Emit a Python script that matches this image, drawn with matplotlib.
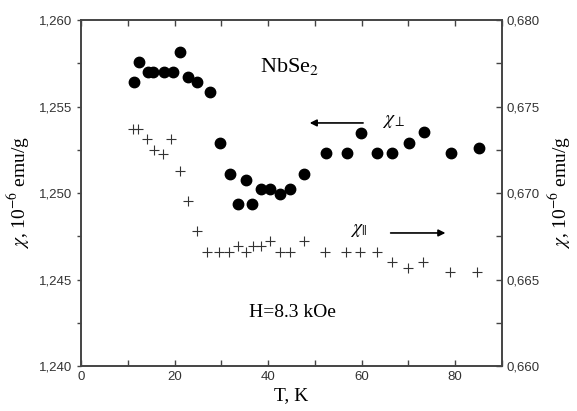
import numpy as np
import matplotlib
matplotlib.use("Agg")
import matplotlib.pyplot as plt
from matplotlib.ticker import MultipleLocator, FuncFormatter

# chi_perp (left axis), filled circles
T_perp = [11.4, 12.4, 14.4, 15.4, 17.7, 19.6, 21.1, 22.9, 24.7, 27.5, 29.7, 31.9,
          33.6, 35.2, 36.5, 38.4, 40.4, 42.6, 44.6, 47.7, 52.4, 56.9, 59.9, 63.3,
          66.5, 70.2, 73.3, 79.2, 85.1]
chi_perp = [1.25643, 1.25755, 1.25698, 1.25698, 1.25698, 1.25698, 1.25817, 1.25672,
            1.25643, 1.25586, 1.25287, 1.25112, 1.24936, 1.25075, 1.24936, 1.25023,
            1.25023, 1.24994, 1.25023, 1.25112, 1.25229, 1.25229, 1.25349, 1.25229,
            1.25229, 1.25291, 1.25351, 1.25229, 1.25258]

# chi_par (right axis), crosses
T_par = [11.2, 12.1, 14.2, 15.7, 17.5, 19.3, 21.1, 22.9, 24.7, 27.0, 29.5, 31.7,
         33.5, 35.2, 36.7, 38.5, 40.4, 42.6, 44.6, 47.7, 52.1, 56.7, 59.7, 63.3,
         66.5, 70.0, 73.1, 78.8, 84.7]
chi_par = [0.67368, 0.67368, 0.67310, 0.67249, 0.67225, 0.67310, 0.67129, 0.66954,
           0.66780, 0.66661, 0.66661, 0.66661, 0.66695, 0.66661, 0.66692, 0.66692,
           0.66723, 0.66661, 0.66661, 0.66723, 0.66661, 0.66661, 0.66661, 0.66661,
           0.66603, 0.66568, 0.66603, 0.66545, 0.66545]

plt.rcParams['mathtext.fontset'] = 'stix'
serif = 'Liberation Serif'
sans = 'Liberation Sans'
col = '#444444'

fig = plt.figure(figsize=(5.77, 4.11), dpi=100)
ax = fig.add_axes([0.1404, 0.1095, 0.7296, 0.8418])
ax2 = ax.twinx()

ax.plot(T_perp, chi_perp, 'o', color='black', markersize=7.5, linestyle='none')
ax2.plot(T_par, chi_par, '+', color='#333333', markersize=7, markeredgewidth=0.8,
         linestyle='none')

ax.set_xlim(0, 90)
ax.set_ylim(1.240, 1.260)
ax2.set_ylim(0.660, 0.680)

comma = lambda v, p: ('%.3f' % v).replace('.', ',')
ax.yaxis.set_major_locator(MultipleLocator(0.005))
ax.yaxis.set_minor_locator(MultipleLocator(0.0025))
ax.yaxis.set_major_formatter(FuncFormatter(comma))
ax2.yaxis.set_major_locator(MultipleLocator(0.005))
ax2.yaxis.set_minor_locator(MultipleLocator(0.0025))
ax2.yaxis.set_major_formatter(FuncFormatter(comma))
ax.xaxis.set_major_locator(MultipleLocator(20))
ax.xaxis.set_minor_locator(MultipleLocator(10))
ax.xaxis.set_ticks_position('both')

for a in (ax, ax2):
    for s in a.spines.values():
        s.set_color(col)
        s.set_linewidth(1.2)
ax.tick_params(axis='x', which='both', direction='in', colors=col, labelcolor='#333333',
               labelsize=9.5, width=1.0, length=4, labelfontfamily=sans)
ax.tick_params(axis='y', which='both', direction='out', colors=col, labelcolor='#333333',
               labelsize=9.5, width=1.0, length=3, labelfontfamily=sans)
ax2.tick_params(axis='y', which='both', direction='in', colors=col, labelcolor='#333333',
                labelsize=9.5, width=1.0, length=4, labelfontfamily=sans)

ax.set_xlabel('T, K', family=serif, fontsize=14, labelpad=3)
ax.set_ylabel(r'$\chi$, 10$^{-6}$ emu/g', family=serif, fontsize=14, labelpad=5)
ax2.set_ylabel(r'$\chi$, 10$^{-6}$ emu/g', family=serif, fontsize=14, labelpad=5)

ax.text(44.5, 1.2573, r'NbSe$_2$', family=serif, fontsize=16, ha='center', va='center')
ax.text(45.3, 1.2431, 'H=8.3 kOe', family=serif, fontsize=14, ha='center', va='center')

ax.annotate('', xy=(48.3, 1.25405), xytext=(60.9, 1.25405),
            arrowprops=dict(arrowstyle='-|>', color='black', lw=1.2, mutation_scale=10))
ax.text(64.4, 1.2542, r'$\chi_{\perp}$', fontsize=14, ha='left', va='center')
ax.annotate('', xy=(78.5, 1.24769), xytext=(65.6, 1.24769),
            arrowprops=dict(arrowstyle='-|>', color='black', lw=1.2, mutation_scale=10))
ax.text(57.5, 1.2479, r'$\chi_{||}$', fontsize=14, ha='left', va='center')

fig.savefig('out.png', dpi=100)
